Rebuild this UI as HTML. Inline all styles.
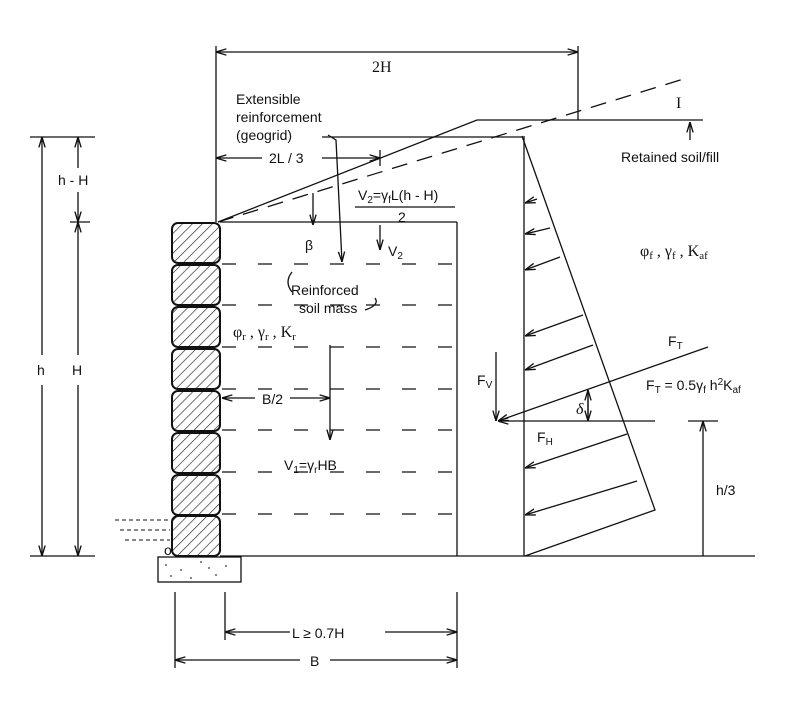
<!DOCTYPE html>
<html><head><meta charset="utf-8"><style>
body{margin:0;background:#fff}
svg{display:block}
text{font-family:"Liberation Sans","DejaVu Sans",sans-serif;font-size:14px;fill:#111}
.s{font-family:"Liberation Serif",serif;font-size:16px}
</style></head><body>
<svg width="800" height="716" viewBox="0 0 800 716" xmlns="http://www.w3.org/2000/svg">
<defs>
<pattern id="h" width="7" height="7" patternUnits="userSpaceOnUse" patternTransform="rotate(45)">
<line x1="0" y1="0" x2="0" y2="7" stroke="#222" stroke-width="1.3"/></pattern>
<marker id="a" viewBox="0 0 10 10" refX="10" refY="5" markerWidth="8" markerHeight="8" orient="auto-start-reverse"><path d="M0,2 L10,5 L0,8" fill="none" stroke="#111" stroke-width="1.3"/></marker>
</defs>
<g stroke="#111" stroke-width="1.3" fill="none">
<g fill="url(#h)" stroke-width="2">
<rect x="172" y="223" width="48" height="40" rx="6"/>
<rect x="172" y="265" width="48" height="40" rx="6"/>
<rect x="172" y="307" width="48" height="40" rx="6"/>
<rect x="172" y="349" width="48" height="40" rx="6"/>
<rect x="172" y="391" width="48" height="40" rx="6"/>
<rect x="172" y="433" width="48" height="40" rx="6"/>
<rect x="172" y="475" width="48" height="40" rx="6"/>
<rect x="172" y="516" width="48" height="40" rx="6"/>
</g>
<rect x="158" y="557" width="83" height="25"/>
<g stroke-width="1">
<path d="M165,565h2M180,570h2M200,562h2M215,575h2M190,578h2M170,576h2M225,566h2M208,568h2"/>
</g>
<line x1="220" y1="556" x2="755" y2="556"/>
<line x1="220" y1="222" x2="457" y2="222"/>
<line x1="457" y1="222" x2="457" y2="556"/>
<g stroke-dasharray="14,22">
<line x1="222" y1="264" x2="457" y2="264"/><line x1="222" y1="305" x2="457" y2="305"/>
<line x1="222" y1="347" x2="457" y2="347"/><line x1="222" y1="389" x2="457" y2="389"/>
<line x1="222" y1="430" x2="457" y2="430"/><line x1="222" y1="472" x2="457" y2="472"/>
<line x1="222" y1="514" x2="457" y2="514"/>
</g>
<path d="M115,520h55M120,530h50M125,540h45" stroke-dasharray="4,3" stroke-width="1"/>
<path d="M218,222 L477,120 H703"/>
<line x1="218" y1="222" x2="690" y2="77" stroke-dasharray="16,10"/>
<line x1="322" y1="137" x2="522" y2="137"/>
<line x1="524" y1="136" x2="524" y2="556"/>
<path d="M522,136 L655,510 L525,556"/>
<g marker-end="url(#a)">
<line x1="537" y1="199" x2="525" y2="203"/>
<line x1="550" y1="228" x2="525" y2="234"/>
<line x1="560" y1="257" x2="525" y2="270"/>
<line x1="583" y1="315" x2="525" y2="336"/>
<line x1="593" y1="345" x2="525" y2="370"/>
<line x1="627" y1="434" x2="525" y2="468"/>
<line x1="637" y1="481" x2="525" y2="515"/>
<line x1="708" y1="347" x2="498" y2="421"/>
<line x1="655" y1="421" x2="498" y2="421"/>
<line x1="496" y1="352" x2="496" y2="421"/>
<line x1="330" y1="345" x2="330" y2="440"/>
<line x1="380" y1="225" x2="380" y2="250"/>
<line x1="313" y1="193" x2="313" y2="225"/>
<line x1="255" y1="398" x2="222" y2="398"/>
<line x1="290" y1="398" x2="330" y2="398"/>
<line x1="588" y1="395" x2="588" y2="421"/>
<line x1="588" y1="417" x2="588" y2="390"/>
</g>
<path d="M328,135 L336,140 L342,262" marker-end="url(#a)"/>
<path d="M292,272 q-8,10 0,20"/>
<path d="M365,310 q15,-5 10,-12"/>
<line x1="688" y1="421" x2="718" y2="421"/>
<line x1="703" y1="421" x2="703" y2="556" marker-start="url(#a)"/>
<line x1="690" y1="122" x2="690" y2="140" marker-start="url(#a)"/>
<line x1="216" y1="52" x2="578" y2="52" marker-start="url(#a)" marker-end="url(#a)"/>
<line x1="216" y1="46" x2="216" y2="222"/>
<line x1="578" y1="46" x2="578" y2="120"/>
<line x1="216" y1="158" x2="262" y2="158" marker-start="url(#a)"/>
<line x1="322" y1="158" x2="380" y2="158" marker-end="url(#a)"/>
<line x1="380" y1="150" x2="380" y2="166"/>
<line x1="30" y1="137" x2="95" y2="137"/>
<line x1="42" y1="137" x2="42" y2="355" marker-start="url(#a)"/>
<line x1="42" y1="385" x2="42" y2="556" marker-end="url(#a)"/>
<line x1="30" y1="556" x2="95" y2="556"/>
<line x1="78" y1="137" x2="78" y2="168" marker-start="url(#a)"/>
<line x1="78" y1="192" x2="78" y2="222" marker-end="url(#a)"/>
<line x1="70" y1="222" x2="90" y2="222"/>
<line x1="78" y1="222" x2="78" y2="355" marker-start="url(#a)"/>
<line x1="78" y1="385" x2="78" y2="556" marker-end="url(#a)"/>
<line x1="175" y1="592" x2="175" y2="668"/>
<line x1="225" y1="592" x2="225" y2="640"/>
<line x1="457" y1="592" x2="457" y2="668"/>
<line x1="225" y1="632" x2="290" y2="632" marker-start="url(#a)"/>
<line x1="385" y1="632" x2="457" y2="632" marker-end="url(#a)"/>
<line x1="175" y1="660" x2="300" y2="660" marker-start="url(#a)"/>
<line x1="330" y1="660" x2="457" y2="660" marker-end="url(#a)"/>
<line x1="355" y1="207" x2="455" y2="207"/>
</g>
<text x="372" y="72" class="s">2H</text>
<text x="236" y="104">Extensible</text>
<text x="236" y="122">reinforcement</text>
<text x="236" y="140">(geogrid)</text>
<text x="269" y="163">2L / 3</text>
<text x="621" y="162">Retained soil/fill</text>
<text x="676" y="108" class="s">I</text>
<text x="358" y="200">V<tspan font-size="10" dy="3">2</tspan><tspan dy="-3">=γ</tspan><tspan font-size="10" dy="3">f</tspan><tspan dy="-3">L(h - H)</tspan></text>
<text x="398" y="222">2</text>
<text x="305" y="250">β</text>
<text x="388" y="256">V<tspan font-size="10" dy="3">2</tspan></text>
<text x="291" y="295">Reinforced</text>
<text x="299" y="313">soil mass</text>
<text x="233" y="337" class="s">φ<tspan font-size="11" dy="3">r</tspan><tspan dy="-3"> , γ</tspan><tspan font-size="11" dy="3">r</tspan><tspan dy="-3"> , K</tspan><tspan font-size="11" dy="3">r</tspan></text>
<text x="262" y="404">B/2</text>
<text x="284" y="470">V<tspan font-size="10" dy="3">1</tspan><tspan dy="-3">=γ</tspan><tspan font-size="10" dy="3">r</tspan><tspan dy="-3">HB</tspan></text>
<text x="640" y="256" class="s">φ<tspan font-size="11" dy="3">f</tspan><tspan dy="-3"> , γ</tspan><tspan font-size="11" dy="3">f</tspan><tspan dy="-3"> , K</tspan><tspan font-size="11" dy="3">af</tspan></text>
<text x="668" y="346">F<tspan font-size="10" dy="3">T</tspan></text>
<text x="646" y="390">F<tspan font-size="10" dy="3">T</tspan><tspan dy="-3"> = 0.5γ</tspan><tspan font-size="10" dy="3">f</tspan><tspan dy="-3"> h</tspan><tspan font-size="10" dy="-5">2</tspan><tspan dy="5">K</tspan><tspan font-size="10" dy="3">af</tspan></text>
<text x="477" y="385">F<tspan font-size="10" dy="3">V</tspan></text>
<text x="537" y="442">F<tspan font-size="10" dy="3">H</tspan></text>
<text x="576" y="414" class="s" font-style="italic">δ</text>
<text x="58" y="185">h - H</text>
<text x="37" y="375">h</text>
<text x="72" y="375">H</text>
<text x="716" y="495">h/3</text>
<text x="292" y="638">L ≥ 0.7H</text>
<text x="310" y="666">B</text>
<text x="164" y="555" font-size="11">o</text>
</svg>
</body></html>
